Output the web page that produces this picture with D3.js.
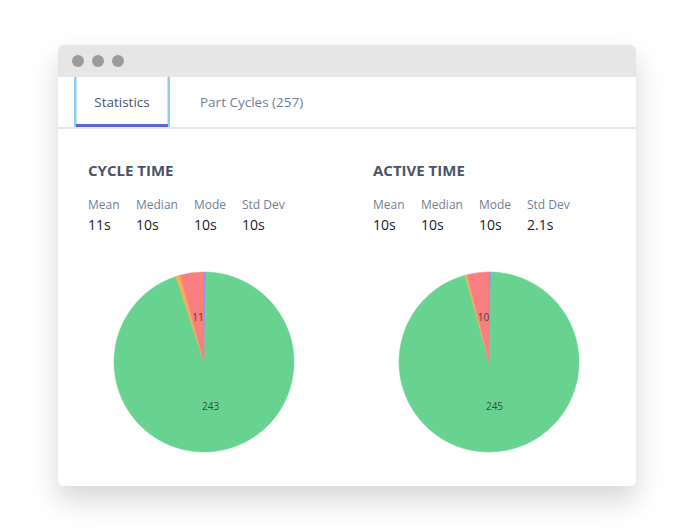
<!DOCTYPE html>
<html><head><meta charset="utf-8">
<script src="https://cdn.jsdelivr.net/npm/d3@7"></script>
<style>body{margin:0;background:#fff;font-family:"Open Sans",sans-serif}</style>
</head><body>
<script>
const statLabels = ['Mean', 'Median', 'Mode', 'Std Dev']
const cycleStats = ['11s', '10s', '10s', '10s']
const activeStats = ['10s', '10s', '10s', '2.1s']
const sliceNames = ['blue', 'green', 'orange', 'red']
const cycleCounts = [1, 243, 2, 11]
const activeCounts = [1, 245, 1, 10]
const sliceColors = ['#7f9cf5', '#68d391', '#f6ad55', '#f87e80']

const svg = d3.select('body').append('svg').attr('width', 694).attr('height', 531)
const defs = svg.append('defs')
const f = defs.append('filter').attr('id', 'sh').attr('x', '-20%').attr('y', '-20%').attr('width', '140%').attr('height', '150%')
f.append('feDropShadow').attr('dx', 0).attr('dy', 14).attr('stdDeviation', 14).attr('flood-color', '#000').attr('flood-opacity', 0.16)

svg.append('rect').attr('x', 58).attr('y', 45).attr('width', 578).attr('height', 441).attr('rx', 6)
    .attr('fill', '#fff').attr('filter', 'url(#sh)')
svg.append('path').attr('d', 'M58,77 V51 a6,6 0 0 1 6,-6 H630 a6,6 0 0 1 6,6 V77 Z').attr('fill', '#e6e6e6')
;[78, 98, 118].forEach(x => svg.append('circle').attr('cx', x).attr('cy', 61).attr('r', 6).attr('fill', '#9b9b9b'))

// tabs
svg.append('line').attr('x1', 58).attr('x2', 636).attr('y1', 128).attr('y2', 128).attr('stroke', '#e2e8f0').attr('stroke-width', 2)
svg.append('rect').attr('x', 74).attr('y', 77).attr('width', 2.5).attr('height', 50).attr('fill', '#90cdf4')
svg.append('rect').attr('x', 167.5).attr('y', 77).attr('width', 2.5).attr('height', 50).attr('fill', '#90cdf4')
svg.append('rect').attr('x', 76).attr('y', 124).attr('width', 92).attr('height', 3).attr('fill', '#5a67d8')
svg.append('text').attr('x', 122).attr('y', 107).attr('text-anchor', 'middle').attr('font-size', 13.5).attr('fill', '#4a5568').text('Statistics')
svg.append('text').attr('x', 200).attr('y', 107).attr('font-size', 13.5).attr('fill', '#718096').text('Part Cycles (257)')

function panel(x0, title, stats, counts) {
    const g = svg.append('g')
    g.append('text').attr('x', x0).attr('y', 176).attr('font-size', 15).attr('font-weight', 'bold').attr('fill', '#4a5568').text(title)
    const xs = d3.scalePoint().domain(statLabels).range([x0, x0 + 154])
    const offs = [0, -6, 0, 0]
    statLabels.forEach((l, i) => {
        const x = [x0, x0 + 48, x0 + 106, x0 + 154][i]
        g.append('text').attr('x', x).attr('y', 209).attr('font-size', 12).attr('fill', '#718096').text(l)
        g.append('text').attr('x', x).attr('y', 230).attr('font-size', 14).attr('fill', '#1a202c').text(stats[i])
    })
    const cx = x0 + 116, cy = 362, r = 90
    const pie = d3.pie().sort(null).value(d => d)
    const arc = d3.arc().innerRadius(0).outerRadius(r)
    const lab = d3.arc().innerRadius(r * 0.5).outerRadius(r * 0.5)
    const pg = g.append('g').attr('transform', `translate(${cx},${cy})`)
    const arcs = pie(counts)
    pg.selectAll('path').data(arcs).join('path').attr('d', arc).attr('fill', (d, i) => sliceColors[i])
        .attr('stroke', (d, i) => sliceColors[i]).attr('stroke-width', 0.5)
    pg.selectAll('text').data(arcs.filter(d => d.data > 5)).join('text')
        .attr('transform', d => `translate(${lab.centroid(d)})`).attr('text-anchor', 'middle').attr('dy', '0.35em')
        .attr('font-size', 10).attr('fill', '#444').text(d => d.data)
}
panel(88, 'CYCLE TIME', cycleStats, cycleCounts)
panel(373, 'ACTIVE TIME', activeStats, activeCounts)
</script>
</body></html>
